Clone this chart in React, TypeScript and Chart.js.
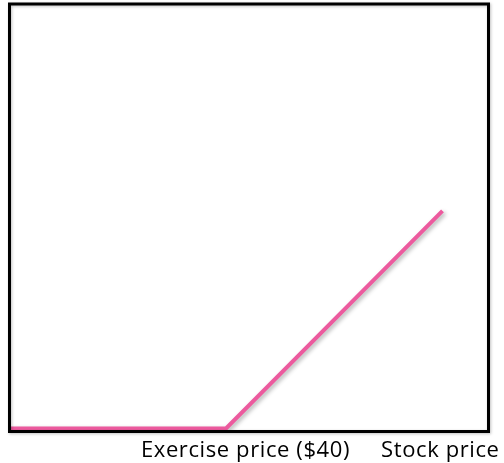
import React, { useEffect, useRef } from "react";
import { Chart, registerables } from "chart.js";

Chart.register(...registerables);

const stockPrices = [0, 40, 80];
const payoffs = [0, 0, 40];
const tickValues = [43.6, 79.6];
const tickLabels = ["Exercise price ($40)", "Stock price"];

const boxPlugin = {
  id: "boxPlugin",
  beforeDraw(chart: any) {
    chart.ctx.letterSpacing = "0.6px";
  },
  afterDraw(chart: any) {
    const { ctx, chartArea } = chart;
    ctx.save();
    ctx.shadowColor = "rgba(0,0,0,0.25)";
    ctx.shadowBlur = 3;
    ctx.shadowOffsetX = 1;
    ctx.shadowOffsetY = 1;
    ctx.strokeStyle = "#000";
    ctx.lineWidth = 3;
    ctx.strokeRect(chartArea.left, chartArea.top, chartArea.right - chartArea.left, chartArea.bottom - chartArea.top);
    ctx.restore();
  },
};

const shadowPlugin = {
  id: "shadowPlugin",
  beforeDatasetDraw(chart: any) {
    const ctx = chart.ctx;
    ctx.save();
    ctx.shadowColor = "rgba(0,0,0,0.3)";
    ctx.shadowBlur = 4;
    ctx.shadowOffsetX = 2;
    ctx.shadowOffsetY = 2;
  },
  afterDatasetDraw(chart: any) {
    chart.ctx.restore();
  },
};

export default function App() {
  const ref = useRef<HTMLCanvasElement | null>(null);
  useEffect(() => {
    document.body.style.margin = "0";
    const chart = new Chart(ref.current!, {
      type: "line",
      data: {
        datasets: [
          {
            data: stockPrices.map((x, i) => ({ x, y: payoffs[i] })),
            borderColor: "#ec5a9e",
            borderWidth: 4,
            pointRadius: 0,
            tension: 0,
            fill: false,
          },
        ],
      },
      options: {
        animation: false,
        responsive: false,
        plugins: { legend: { display: false }, tooltip: { enabled: false } },
        layout: { padding: { left: 9.5, top: 4, right: 15.5, bottom: 0 } },
        scales: {
          x: {
            type: "linear",
            min: 0,
            max: 88.5,
            grid: { display: false, drawTicks: false },
            border: { display: false },
            afterBuildTicks(scale: any) {
              scale.ticks = tickValues.map((v) => ({ value: v }));
            },
            afterFit(scale: any) {
              scale.height = 31.5;
            },
            ticks: {
              autoSkip: false,
              maxRotation: 0,
              padding: 6,
              color: "#000",
              font: { family: "Open Sans", size: 22 },
              callback: (v: any) => {
                const i = tickValues.indexOf(Number(v));
                return i >= 0 ? tickLabels[i] : "";
              },
            },
          },
          y: {
            display: false,
            min: -0.55,
            max: 78,
          },
        },
      },
      plugins: [shadowPlugin, boxPlugin],
    });
    return () => chart.destroy();
  }, []);
  return (
    <div style={{ width: 504, height: 463 }}>
      <canvas ref={ref} width={504} height={463} style={{ display: "block" }} />
    </div>
  );
}
